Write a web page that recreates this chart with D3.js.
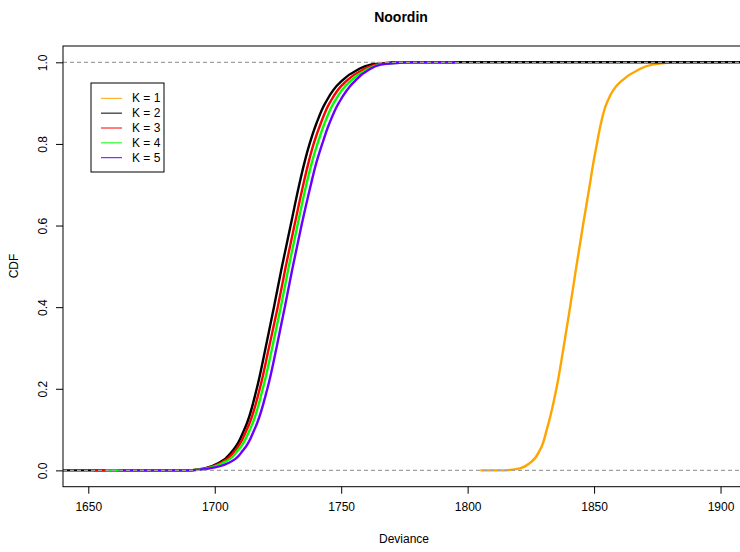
<!DOCTYPE html>
<html>
<head>
<meta charset="utf-8">
<script src="https://cdn.jsdelivr.net/npm/d3@7"></script>
<style>
  html, body { margin: 0; padding: 0; background: #fff; }
  svg { display: block; font-family: "Liberation Sans", Arial, Helvetica, sans-serif; }
</style>
</head>
<body>
<svg id="chart" width="740" height="552"></svg>
<script>
// Cumulative probability levels at which each curve's deviance is listed
const cdfLevels = [0, 0.005, 0.02, 0.05, 0.1, 0.2, 0.3, 0.4, 0.5, 0.6, 0.7, 0.75, 0.8, 0.85, 0.9, 0.95, 0.98, 0.995, 1];

const seriesNames = ["K = 1", "K = 2", "K = 3", "K = 4", "K = 5"];
const seriesColors = ["#FFA500", "#000000", "#FF0000", "#00FF00", "#6A00FF"];

// Deviance at each cdf level, one array per model
const devK1 = [1815, 1820.7, 1825, 1828.6, 1831.3, 1835.1, 1837.9, 1840.5, 1843, 1845.6, 1848.3, 1849.6, 1851.1, 1852.7, 1855, 1860.1, 1867, 1873.5, 1880];
const devK2 = [1690, 1696, 1702, 1707.3, 1711.7, 1716.6, 1720.1, 1723.4, 1726.6, 1730, 1733.4, 1735.3, 1737.5, 1740.2, 1743.7, 1749.5, 1756, 1762, 1770];
const devK3 = [1690, 1696.5, 1702.8, 1708.2, 1712.7, 1717.8, 1721.4, 1724.9, 1728.1, 1731.5, 1735, 1736.9, 1739.1, 1741.9, 1745.4, 1751.3, 1758, 1764, 1772];
const devK4 = [1690, 1697, 1703.8, 1709.3, 1713.9, 1719, 1722.7, 1726.1, 1729.3, 1732.7, 1736.2, 1738.2, 1740.6, 1743.4, 1747, 1753, 1759.5, 1765.5, 1774];
const devK5 = [1691, 1698, 1706, 1711.3, 1715.7, 1720.8, 1724.4, 1727.7, 1730.9, 1734.3, 1738, 1740, 1742.5, 1745.3, 1749, 1754.8, 1760.5, 1766, 1776];
const seriesDev = [devK1, devK2, devK3, devK4, devK5];

// Where each step function's flat tails begin and end
const tailStart = [1805, 1640, 1652, 1657, 1662];
const tailEnd = [1901, 1911, 1785, 1790, 1795];

const xTicks = [1650, 1700, 1750, 1800, 1850, 1900];
const yTicks = [0, 0.2, 0.4, 0.6, 0.8, 1.0];
const refLines = [0, 1];

const svg = d3.select("#chart");
const plotLeft = 63, plotTop = 46, plotBottom = 486.7;
const xDomain = [1640, 1911];
const plotRight = plotLeft + (xDomain[1] - xDomain[0]) * 2.529;

const x = d3.scaleLinear().domain(xDomain).range([plotLeft, plotRight]);
const y = d3.scaleLinear().domain([-0.04, 1.04]).range([plotBottom, plotTop]);

svg.append("defs").append("clipPath").attr("id", "plotClip")
  .append("rect").attr("x", plotLeft).attr("y", plotTop)
  .attr("width", plotRight - plotLeft).attr("height", plotBottom - plotTop);

const plot = svg.append("g").attr("clip-path", "url(#plotClip)");

// rising part interpolated as deviance over probability; tails are straight
const rise = d3.line()
  .x(d => x(d[0]))
  .y(d => y(d[1]))
  .curve(d3.curveMonotoneY);

seriesDev.forEach((dev, i) => {
  const pts = dev.map((v, j) => [v, cdfLevels[j]]);
  const body = rise(pts).replace(/^M/, "L");
  const d = `M${x(tailStart[i])},${y(0)}` + body + `L${x(tailEnd[i])},${y(1)}`;
  plot.append("path")
    .attr("d", d)
    .attr("fill", "none")
    .attr("stroke", seriesColors[i])
    .attr("stroke-width", 2.4);
});

// dashed reference lines at 0 and 1
plot.selectAll(".ref").data(refLines).enter().append("line")
  .attr("x1", plotLeft).attr("x2", plotRight)
  .attr("y1", d => y(d)).attr("y2", d => y(d))
  .attr("stroke", "#A0A0A0")
  .attr("stroke-width", 1.2)
  .attr("stroke-dasharray", "4,3");

// plot frame
svg.append("rect")
  .attr("x", plotLeft).attr("y", plotTop)
  .attr("width", plotRight - plotLeft).attr("height", plotBottom - plotTop)
  .attr("fill", "none").attr("stroke", "#000").attr("stroke-width", 1);

// x axis
const xAxis = svg.append("g")
  .attr("transform", `translate(0,${plotBottom})`)
  .call(d3.axisBottom(x).tickValues(xTicks).tickSize(7).tickPadding(9).tickFormat(d3.format("d")));
xAxis.select(".domain").remove();
xAxis.selectAll("text").attr("font-size", 12).attr("fill", "#000")
  .attr("font-family", "Liberation Sans, Arial, sans-serif");

// y axis with rotated labels
const yAxis = svg.append("g")
  .attr("transform", `translate(${plotLeft},0)`)
  .call(d3.axisLeft(y).tickValues(yTicks).tickSize(7).tickFormat(d3.format(".1f")));
yAxis.select(".domain").remove();
yAxis.selectAll("text")
  .attr("font-size", 12).attr("fill", "#000")
  .attr("font-family", "Liberation Sans, Arial, sans-serif")
  .attr("text-anchor", "middle")
  .attr("x", null).attr("dy", null)
  .attr("transform", "translate(-20,0) rotate(-90)")
  .attr("dominant-baseline", "central");

// titles
svg.append("text")
  .attr("x", 401).attr("y", 22)
  .attr("text-anchor", "middle")
  .attr("font-size", 14).attr("font-weight", "bold")
  .text("Noordin");

svg.append("text")
  .attr("x", 404).attr("y", 543)
  .attr("text-anchor", "middle")
  .attr("font-size", 12)
  .text("Deviance");

svg.append("text")
  .attr("transform", `translate(18,266) rotate(-90)`)
  .attr("text-anchor", "middle")
  .attr("font-size", 12)
  .text("CDF");

// legend
const legend = svg.append("g");
legend.append("rect")
  .attr("x", 91).attr("y", 83).attr("width", 73).attr("height", 89)
  .attr("fill", "#fff").attr("stroke", "#000").attr("stroke-width", 1);
seriesNames.forEach((name, i) => {
  const yy = 98.3 + i * 14.85;
  legend.append("line")
    .attr("x1", 101).attr("x2", 122)
    .attr("y1", yy).attr("y2", yy)
    .attr("stroke", seriesColors[i]).attr("stroke-width", 1);
  legend.append("text")
    .attr("x", 132).attr("y", yy)
    .attr("dominant-baseline", "central")
    .attr("font-size", 12)
    .text(name);
});
</script>
</body>
</html>
